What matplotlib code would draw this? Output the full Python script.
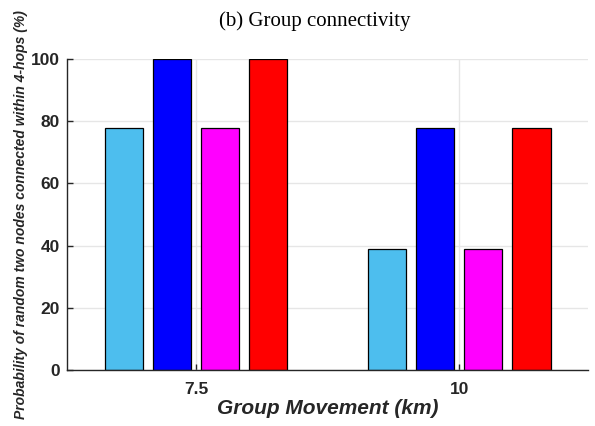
import matplotlib
matplotlib.use("Agg")
import matplotlib.pyplot as plt
import numpy as np

categories = ["7.5", "10"]
series_a = [77.8, 38.9]   # light blue
series_b = [100.0, 77.8]  # blue
series_c = [77.8, 38.9]   # magenta
series_d = [100.0, 77.8]  # red
colors = ["#4DBEEE", "#0000FF", "#FF00FF", "#FF0000"]
yticks = [0, 20, 40, 60, 80, 100]

fig = plt.figure(figsize=(5.95, 4.26), dpi=100)
ax = fig.add_axes([0.1126, 0.1315, 0.876, 0.73])

x = np.arange(1, len(categories) + 1)
offsets = [-0.274, -0.0913, 0.0913, 0.274]
width = 0.146
for s, off, c in zip([series_a, series_b, series_c, series_d], offsets, colors):
    ax.bar(x + off, s, width=width, color=c, edgecolor="black", linewidth=0.9, zorder=3)

ax.set_xlim(0.51, 2.49)
ax.set_ylim(0, 100)
ax.set_xticks(x)
ax.set_xticklabels(categories)
ax.set_yticks(yticks)
ax.grid(True, color="#e6e6e6", linewidth=1.0, zorder=0)
ax.set_axisbelow(True)
for side in ["top", "right"]:
    ax.spines[side].set_visible(False)
for side in ["left", "bottom"]:
    ax.spines[side].set_color("#262626")
    ax.spines[side].set_linewidth(1.0)
    ax.spines[side].set_zorder(4)
ax.tick_params(direction="in", length=4, color="#262626", width=1.0)
for lab in ax.get_xticklabels() + ax.get_yticklabels():
    lab.set_fontfamily("Liberation Sans")
    lab.set_fontweight("bold")
    lab.set_fontsize(12.5)
    lab.set_color("#262626")
ax.tick_params(axis="x", pad=9)
ax.tick_params(axis="y", pad=5)

ax.set_xlabel("Group Movement (km)", fontfamily="Liberation Sans", fontweight="bold",
              fontstyle="italic", fontsize=15, color="#262626", labelpad=1)
ax.set_ylabel("Probability of random two nodes connected within 4-hops (%)",
              fontfamily="Liberation Sans", fontweight="bold", fontstyle="italic",
              fontsize=10, color="#262626", labelpad=2)
fig.text(0.529, 0.951, "(b) Group connectivity", fontfamily="Liberation Serif",
         fontsize=15, ha="center", va="center")

fig.savefig("out.png", dpi=100)
